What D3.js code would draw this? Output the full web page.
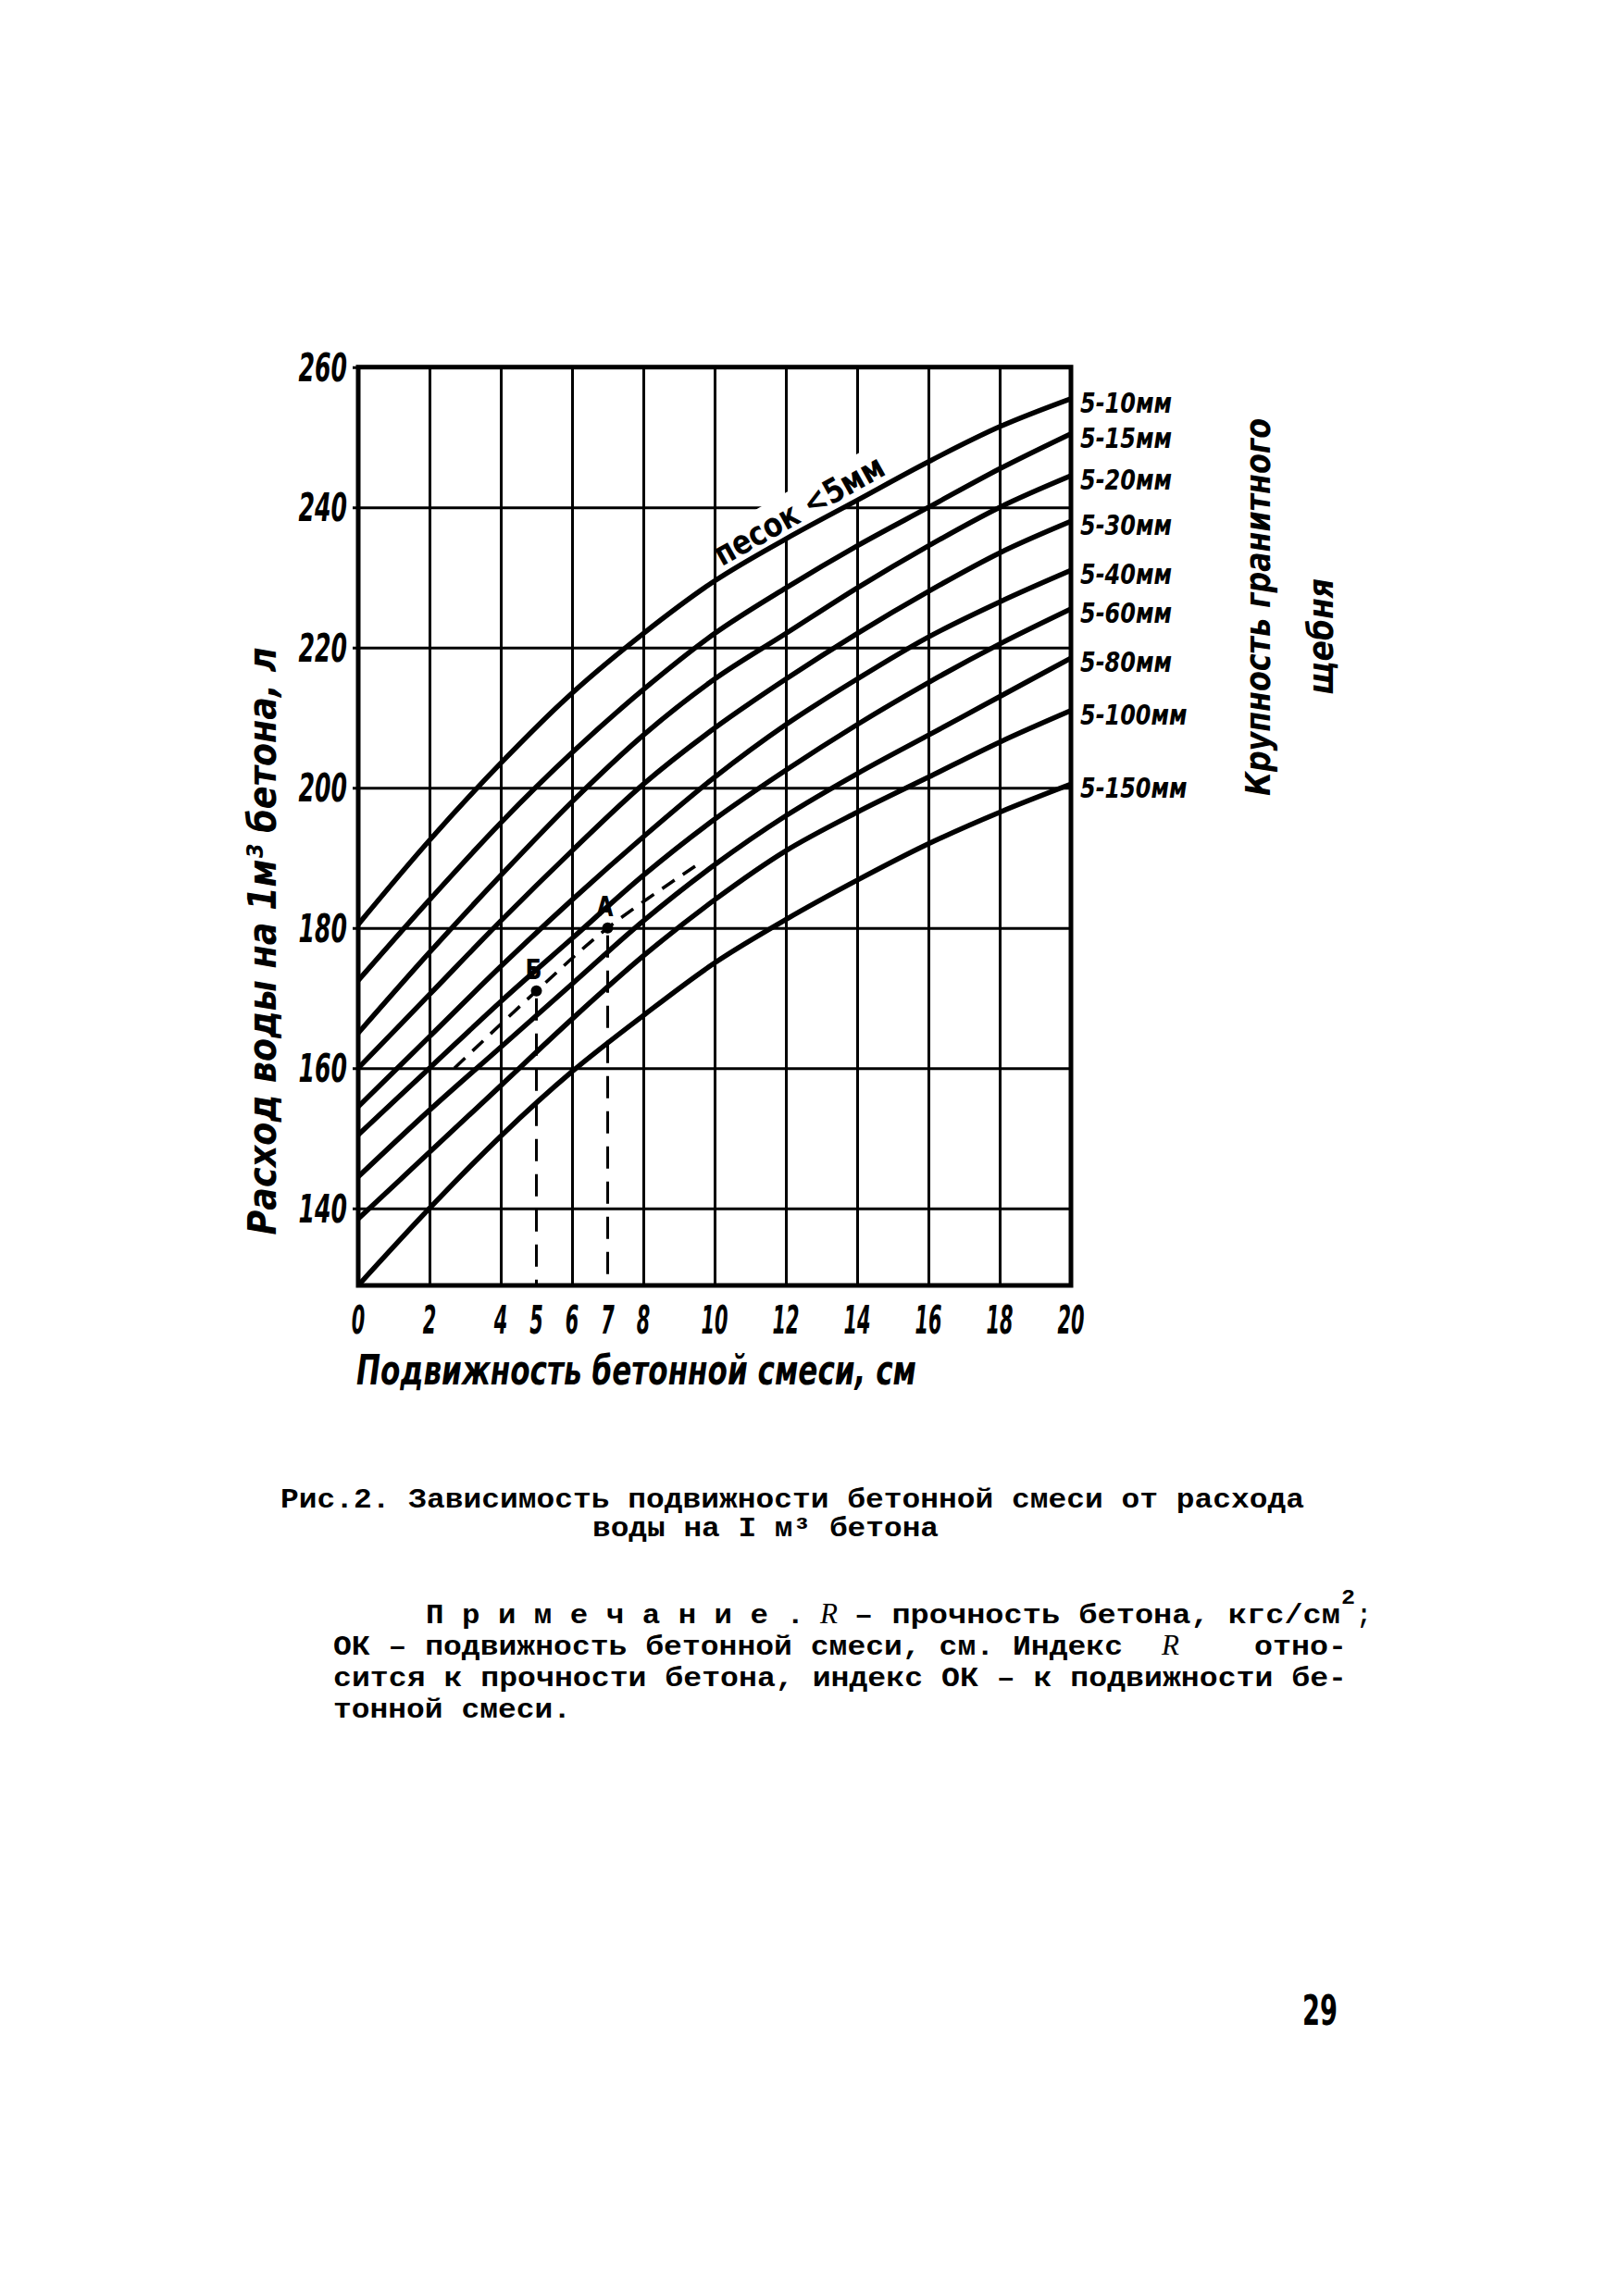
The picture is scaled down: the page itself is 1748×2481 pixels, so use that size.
<!DOCTYPE html>
<html>
<head>
<meta charset="utf-8">
<script src="https://cdn.jsdelivr.net/npm/d3@7"></script>
<style>
  body { margin: 0; background: white; }
</style>
</head>
<body>
<div id="main"></div>
<script>
// slump of the mix, cm (x) and water per 1 m3 of concrete, l (y)
var slump = [0, 2, 4, 6, 8, 10, 12, 14, 16, 18, 20]
var water_5_10 = [180.5, 192.5, 203.5, 213.5, 222, 229.5, 235.5, 241, 246.5, 251.5, 255.5]
var water_5_15 = [172.5, 184, 195, 205, 214, 222, 228.5, 234.5, 240, 245.5, 250.5]
var water_5_20 = [165, 176.5, 187.5, 198, 207.5, 215.5, 222, 228.5, 234.5, 240, 244.5]
var water_5_30 = [160, 170.5, 181, 191, 200.5, 208.5, 215.5, 222, 228, 233.5, 238]
var water_5_40 = [154.5, 164.5, 174.5, 184, 193, 201.5, 209, 215.5, 221.5, 226.5, 231]
var water_5_60 = [150.5, 160, 169.5, 178.5, 187.5, 195.5, 202.5, 209, 215, 220.5, 225.5]
var water_5_80 = [144.5, 154, 163, 172, 181, 189, 196, 202, 207.5, 213, 218.5]
var water_5_100 = [138.5, 148, 157.5, 167, 176, 184, 191, 196.5, 201.5, 206.5, 211]
var water_5_150 = [129, 140, 150.3, 159.5, 167.5, 175, 181.2, 186.8, 192, 196.5, 200.5]
var size_labels = ['5-10мм', '5-15мм', '5-20мм', '5-30мм', '5-40мм', '5-60мм', '5-80мм', '5-100мм', '5-150мм']

var x_grid = [0, 2, 4, 6, 8, 10, 12, 14, 16, 18, 20]
var x_tick_labels = [0, 2, 4, 5, 6, 7, 8, 10, 12, 14, 16, 18, 20]
var y_ticks = [140, 160, 180, 200, 220, 240, 260]

// dashed example line with points A and B
var dash_x = [2.7, 5, 7, 9.6]
var dash_y = [160, 171, 180, 189.3]
var point_names = ['А', 'Б']
var point_x = [7, 5]
var point_y = [180, 171]

var series = [water_5_10, water_5_15, water_5_20, water_5_30, water_5_40,
  water_5_60, water_5_80, water_5_100, water_5_150]

var w = 1748
var h = 2481
var draft_font = '"Liberation Sans Narrow", "DejaVu Sans Condensed", sans-serif'
var type_font = '"Liberation Mono", "DejaVu Sans Mono", monospace'

var svg = d3.select('div#main').append('svg')
  .attr('viewBox', [0, 0, w, h].join(' '))
  .attr('width', w)
  .attr('height', h)
  .style('background-color', 'white')

var plot_left = 387
var plot_right = 1157
var plot_top = 396.7
var plot_bottom = 1389

var scale_x = d3.scaleLinear().domain([0, 20]).range([plot_left, plot_right])
var scale_y = d3.scaleLinear().domain([129, 260]).range([plot_bottom, plot_top])

svg.append('clipPath').attr('id', 'plot-clip').append('rect')
  .attr('x', plot_left).attr('y', plot_top)
  .attr('width', plot_right - plot_left).attr('height', plot_bottom - plot_top)

function draft_text (str, size, italic) {
  return svg.append('text')
    .text(str)
    .style('font-family', draft_font)
    .style('font-style', italic ? 'italic' : 'normal')
    .style('font-weight', 'bold')
    .style('font-size', size + 'px')
}

// grid
var grid_x = svg.append('g')
  .attr('transform', 'translate(0,' + plot_bottom + ')')
  .call(d3.axisBottom(scale_x).tickValues(x_grid).tickSize(-(plot_bottom - plot_top)).tickFormat(''))
grid_x.select('.domain').remove()
grid_x.selectAll('line').attr('stroke', '#000').attr('stroke-width', 3)

var grid_y = svg.append('g')
  .attr('transform', 'translate(' + plot_left + ',0)')
  .call(d3.axisLeft(scale_y).tickValues(y_ticks).tickSize(-(plot_right - plot_left)).tickFormat(''))
grid_y.select('.domain').remove()
grid_y.selectAll('line').attr('x1', -6).attr('stroke', '#000').attr('stroke-width', 3)

var line = d3.line()
  .x(function (d) { return scale_x(d[0]) })
  .y(function (d) { return scale_y(d[1]) })
  .curve(d3.curveCatmullRom.alpha(0.5))

// white patch under the sand label
var label_x0 = 10.2
var label_x1 = 14.8
svg.append('clipPath').attr('id', 'label-clip').append('rect')
  .attr('x', scale_x(label_x0 - 0.05)).attr('y', plot_top)
  .attr('width', scale_x(label_x1 + 0.1) - scale_x(label_x0 - 0.05))
  .attr('height', plot_bottom - plot_top)
var top_pts = slump.map(function (s, i) { return [s, water_5_10[i]] })
svg.append('path')
  .datum(top_pts)
  .attr('clip-path', 'url(#label-clip)')
  .attr('d', d3.area()
    .x(function (d) { return scale_x(d[0]) })
    .y0(function (d) { return scale_y(d[1]) })
    .y1(function (d) { return scale_y(d[1]) - 50 })
    .curve(d3.curveCatmullRom.alpha(0.5)))
  .attr('fill', 'white')

// curves
series.forEach(function (values, idx) {
  var pts = slump.map(function (s, i) { return [s, values[i]] })
  svg.append('path')
    .datum(pts)
    .attr('clip-path', 'url(#plot-clip)')
    .attr('d', line)
    .attr('fill', 'none')
    .attr('stroke', '#000')
    .attr('stroke-width', 5.5)
    .attr('stroke-linejoin', 'round')

  draft_text(size_labels[idx], 31, true)
    .attr('x', plot_right + 10)
    .attr('y', scale_y(values[values.length - 1]) + 4)
    .attr('dy', '0.35em')
    .attr('textLength', size_labels[idx].length * 16.5)
    .attr('lengthAdjust', 'spacingAndGlyphs')
})

// plot border
svg.append('rect')
  .attr('x', plot_left).attr('y', plot_top)
  .attr('width', plot_right - plot_left).attr('height', plot_bottom - plot_top)
  .attr('fill', 'none')
  .attr('stroke', '#000')
  .attr('stroke-width', 5)

// dashed construction lines
var dash_pts = dash_x.map(function (v, i) { return [v, dash_y[i]] })
svg.append('path')
  .datum(dash_pts)
  .attr('d', line)
  .attr('fill', 'none')
  .attr('stroke', '#000')
  .attr('stroke-width', 3.5)
  .attr('stroke-dasharray', '16 11')

point_names.forEach(function (name, i) {
  var px = scale_x(point_x[i])
  var py = scale_y(point_y[i])
  svg.append('line')
    .attr('x1', px).attr('x2', px)
    .attr('y1', py + 8).attr('y2', plot_bottom)
    .attr('stroke', '#000')
    .attr('stroke-width', 3)
    .attr('stroke-dasharray', '24 14')
  svg.append('circle')
    .attr('cx', px).attr('cy', py).attr('r', 6)
    .attr('fill', '#000')
  draft_text(name, 30, false)
    .attr('x', px - 3)
    .attr('y', py - 13)
    .attr('text-anchor', 'middle')
    .attr('textLength', 18)
    .attr('lengthAdjust', 'spacingAndGlyphs')
})

// sand label along the top curve
var interp = d3.scaleLinear().domain(slump).range(water_5_10)
var lx0 = scale_x(label_x0)
var ly0 = scale_y(interp(label_x0))
var lx1 = scale_x(label_x1)
var ly1 = scale_y(interp(label_x1))
var angle = Math.atan2(ly1 - ly0, lx1 - lx0) * 180 / Math.PI
draft_text('песок <5мм', 36, false)
  .attr('transform', 'translate(' + lx0 + ',' + (ly0 - 11) + ') rotate(' + angle + ')')
  .attr('textLength', 205)
  .attr('lengthAdjust', 'spacingAndGlyphs')

// tick labels
x_tick_labels.forEach(function (v) {
  draft_text(v, 42, true)
    .attr('x', scale_x(v))
    .attr('y', plot_bottom + 52)
    .attr('text-anchor', 'middle')
    .attr('textLength', String(v).length * 14.5)
    .attr('lengthAdjust', 'spacingAndGlyphs')
})
y_ticks.forEach(function (v) {
  draft_text(v, 42, true)
    .attr('x', plot_left - 12)
    .attr('y', scale_y(v))
    .attr('dy', '0.36em')
    .attr('text-anchor', 'end')
    .attr('textLength', String(v).length * 17.5)
    .attr('lengthAdjust', 'spacingAndGlyphs')
})

// axis titles
draft_text('Подвижность бетонной смеси, см', 44, true)
  .attr('x', 385)
  .attr('y', 1496)
  .attr('textLength', 605)
  .attr('lengthAdjust', 'spacingAndGlyphs')

draft_text('Расход воды на 1м³ бетона, л', 43, true)
  .attr('transform', 'translate(298,1017) rotate(-90)')
  .attr('text-anchor', 'middle')
  .attr('textLength', 635)
  .attr('lengthAdjust', 'spacingAndGlyphs')

draft_text('Крупность гранитного', 38, true)
  .attr('transform', 'translate(1372,656) rotate(-90)')
  .attr('text-anchor', 'middle')
  .attr('textLength', 408)
  .attr('lengthAdjust', 'spacingAndGlyphs')

draft_text('щебня', 38, true)
  .attr('transform', 'translate(1440,688) rotate(-90)')
  .attr('text-anchor', 'middle')
  .attr('textLength', 126)
  .attr('lengthAdjust', 'spacingAndGlyphs')

// caption and note
function type_line (str, x, y, len) {
  var t = svg.append('text')
    .text(str)
    .attr('x', x)
    .attr('y', y)
    .style('font-family', type_font)
    .style('font-weight', 'bold')
    .style('font-size', '29px')
  if (len) {
    t.attr('textLength', len).attr('lengthAdjust', 'spacingAndGlyphs')
  }
  return t
}
function italic_r (x, y) {
  svg.append('text')
    .text('R')
    .attr('x', x)
    .attr('y', y)
    .style('font-family', '"Liberation Serif", serif')
    .style('font-style', 'italic')
    .style('font-size', '31px')
}

type_line('Рис.2. Зависимость подвижности бетонной смеси от расхода', 303, 1629, 1106)
type_line('воды на I м³ бетона', 640, 1660, 374)

type_line('П р и м е ч а н и е .', 460, 1754, 409)
italic_r(886, 1754)
type_line('– прочность бетона, кгс/см', 923, 1754, 525)
type_line('2', 1449, 1733, 15).style('font-size', '22px')
type_line(';', 1466, 1754, 15)

type_line('ОК – подвижность бетонной смеси, см. Индекс', 360, 1788, 853)
italic_r(1255, 1788)
type_line('отно-', 1355, 1788, 100)
type_line('сится к прочности бетона, индекс ОК – к подвижности бе-', 360, 1822, 1095)
type_line('тонной смеси.', 360, 1856, 257)

draft_text('29', 44, false)
  .attr('x', 1407)
  .attr('y', 2188)
  .attr('textLength', 38)
  .attr('lengthAdjust', 'spacingAndGlyphs')
</script>
</body>
</html>
